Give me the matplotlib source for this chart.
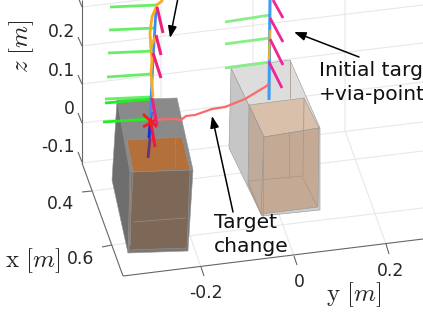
import matplotlib
matplotlib.use('Agg')
import matplotlib.pyplot as plt
from matplotlib.patches import Polygon

plt.rcParams['mathtext.fontset'] = 'cm'
plt.rcParams['font.family'] = 'DejaVu Sans'

W, H = 423, 326
# ---- axes frame (picture units)
z_axis = [(82, 0), (82, 163)]
x_axis = [(82, 163), (123, 276)]
y_axis = [(123, 276), (423, 239)]
z_ticks = [(0.3, 78, -3, 82, 7), (0.2, 78, 37, 82, 46), (0.1, 78, 75, 82, 84), (0, 78, 113, 82, 123), (-0.1, 78, 152, 82, 162)]
x_ticks = [(82, 192, 92, 191), (102, 247, 112, 245)]
y_ticks = [(201, 267, 204, 276), (294, 256, 297, 265), (386, 244, 389, 254)]
grid_lines = [
    [(82, 7), (423, -34)], [(82, 46), (423, 5)], [(82, 84), (423, 43)], [(82, 123), (423, 82)], [(82, 163), (423, 122)],
    [(92, 191), (423, 151)], [(112, 245), (423, 208)],
    [(161, 0), (161, 154), (201, 267)], [(253, 0), (253, 142), (294, 256)], [(345, 0), (345, 131), (386, 244)],
]
tick_labels = [('0.2', 75, 32, 'right'), ('0.1', 75, 71, 'right'), ('0', 75, 109, 'right'), ('-0.1', 75, 147, 'right'),
               ('0.4', 74, 204, 'right'), ('0.6', 94, 259, 'right'),
               ('-0.2', 206, 293, 'center'), ('0', 299, 282, 'center'), ('0.2', 391, 271, 'center')]
# ---- boxes
left_outer_side = [(117, 100), (112, 180), (128, 253), (133, 172), (127, 140)]
left_outer_top = [(117, 100), (177, 98), (193, 170), (130, 172)]
left_outer_front = [(130, 172), (193, 170), (188, 251), (128, 253)]
left_inner_top = [(127, 140), (182, 137), (190, 170), (133, 172)]
left_inner_front = [(133, 172), (190, 170), (187, 248), (129, 250)]
left_wires = [[(175, 118), (175, 168)], [(130, 172), (130, 245)], [(133, 222), (186, 218)]]
right_outer_side = [(231, 68), (229, 148), (262, 216), (264, 137), (249, 105)]
right_outer_top = [(231, 68), (290, 60), (320, 128), (264, 137)]
right_outer_front = [(264, 137), (320, 128), (320, 210), (262, 216)]
right_inner_top = [(249, 105), (304, 98), (319, 128), (264, 137)]
right_inner_side = [(249, 105), (264, 137), (261, 214), (248, 185)]
right_inner_front = [(264, 137), (319, 128), (318, 207), (261, 214)]
right_wires = [[(248, 181), (302, 176)], [(302, 176), (317, 206)], [(248, 181), (261, 214)], [(304, 98), (303, 176)],
               [(290, 60), (290, 98)], [(263, 137), (263, 216)], [(289, 132), (289, 178)]]
# ---- left trajectory
left_green = [[(110, 7), (157, 5)], [(109, 30), (155, 28)], [(108, 53), (153, 51)], [(107, 77), (152, 74)], [(105, 99), (151, 97)]]
left_green_strong = [[(105, 103), (151, 99)], [(103, 122), (150, 119)]]
left_pink = [[(157, 7), (163, 33)], [(156, 35), (161, 55)], [(153, 53), (161, 78)], [(152, 98), (157, 125)]]
left_red = [[(150, 118), (155, 147)]]
left_blue = [(156, 10), (153, 60), (151, 100), (150, 120)]
left_dark_blue = [(151, 112), (149, 138)]
left_purple = [(150, 138), (148, 158)]
left_orange = [(163, 0), (157, 5), (152, 17), (150, 33), (151, 50), (152, 60), (151, 73), (153, 97)]
left_orange2 = [(156, 35), (151, 47)]
red_x = [[(143, 114), (157, 127)], [(143, 127), (155, 120)]]
target_line = [(150, 120), (158, 120), (165, 119), (175, 119), (181, 120), (186, 116), (195, 115), (212, 109),
               (225, 107), (235, 103), (245, 99), (255, 93), (265, 87), (269, 84)]
# ---- right trajectory
right_green = [[(225, 22), (270, 15)], [(225, 44), (270, 38)], [(225, 68), (270, 62)]]
right_pink = [[(273, 0), (283, 18)], [(270, 18), (283, 42)], [(270, 39), (283, 65)], [(269, 62), (282, 88)]]
right_blue = [(270, 0), (269, 100)]
right_orange = [(270, 30), (269, 60)]
# ---- annotations
arrows = [((178, -2), (170, 38)), ((359, 57), (294, 32)), ((233, 212), (212, 116))]
texts = [('Initial target', 319, 71), ('+via-point', 319, 95), ('Target', 214, 223), ('change', 214, 246)]

fig = plt.figure(figsize=(W / 100, H / 100), dpi=100)
ax = fig.add_axes([0, 0, 1, 1])
ax.set_xlim(0, W)
ax.set_ylim(H, 0)
ax.axis('off')

def pl(pts, **kw):
    ax.plot([p[0] for p in pts], [p[1] for p in pts], solid_capstyle='butt', **kw)

for g in grid_lines:
    pl(g, color='#e8e8e8', lw=0.8, zorder=1)
for a in (z_axis, x_axis, y_axis):
    pl(a, color='#666666', lw=0.8, zorder=2)
for t in z_ticks:
    pl([(t[1], t[2]), (t[3], t[4])], color='#666666', lw=0.8, zorder=2)
for t in x_ticks + y_ticks:
    pl([(t[0], t[1]), (t[2], t[3])], color='#666666', lw=0.8, zorder=2)
for s, x, y, ha in tick_labels:
    ax.text(x, y, s, ha=ha, va='center', fontsize=12.4, color='#262626')

ax.text(33, 261, r'$\mathrm{x}\ [m]$', ha='center', va='center', fontsize=18, color='#262626')
ax.text(354, 295, r'$\mathrm{y}\ [m]$', ha='center', va='center', fontsize=18, color='#262626')
ax.text(22, 46, r'$z\ [m]$', ha='center', va='center', rotation=90, fontsize=18, color='#262626')

polys = [(right_outer_side, '#c6c6c6'), (right_outer_top, '#dddddd'), (right_outer_front, '#cdcdcd'),
         (right_inner_top, '#d9c0ab'), (right_inner_side, '#bfab9c'), (right_inner_front, '#c4a994'),
         (left_outer_side, '#6e6e6e'), (left_outer_top, '#8a8a8a'), (left_outer_front, '#787878'),
         (left_inner_top, '#b4703a'), (left_inner_front, '#7d6757')]
for pts, c in polys:
    ax.add_patch(Polygon(pts, closed=True, facecolor=c, edgecolor='#959595', lw=0.4, zorder=3))
for w in right_wires:
    pl(w, color='#ae9887', lw=0.6, zorder=4)
for w in left_wires:
    pl(w, color='#97877a', lw=0.6, zorder=4)

for g in left_green:
    pl(g, color='#66ee66', lw=2, zorder=5)
for g in left_green_strong:
    pl(g, color='#22ee22', lw=2, zorder=5)
for g in right_green:
    pl(g, color='#88ee88', lw=2, zorder=5)
pl(right_blue, color='#3d9bf0', lw=2.2, zorder=5)
pl(right_orange, color='#f5ae20', lw=1.6, zorder=6)
for g in right_pink:
    pl(g, color='#f0259a', lw=2, zorder=6)
pl(target_line, color='#fb6a6a', lw=1.6, zorder=5)
pl(left_purple, color='#663380', lw=2, zorder=5)
pl(left_dark_blue, color='#1030e0', lw=2.2, zorder=6)
pl(left_blue, color='#3d8bf0', lw=2, zorder=6)
pl(left_orange, color='#f5ae20', lw=2, zorder=7)
pl(left_orange2, color='#f5ae20', lw=2, zorder=7)
for g in left_pink:
    pl(g, color='#f0207f', lw=2.2, zorder=8)
for g in left_red:
    pl(g, color='#f01840', lw=2.2, zorder=8)
for g in red_x:
    pl(g, color='#f02020', lw=2, zorder=9)

for start, end in arrows:
    ax.annotate('', xy=end, xytext=start, annotation_clip=False, zorder=10,
                arrowprops=dict(arrowstyle='-|>,head_length=0.7,head_width=0.26', color='black', lw=1.1,
                                shrinkA=0, shrinkB=0))
for s, x, y in texts:
    ax.text(x, y, s, ha='left', va='center', fontsize=14.6, color='#111111', zorder=11)

fig.savefig('out.png', dpi=100)
